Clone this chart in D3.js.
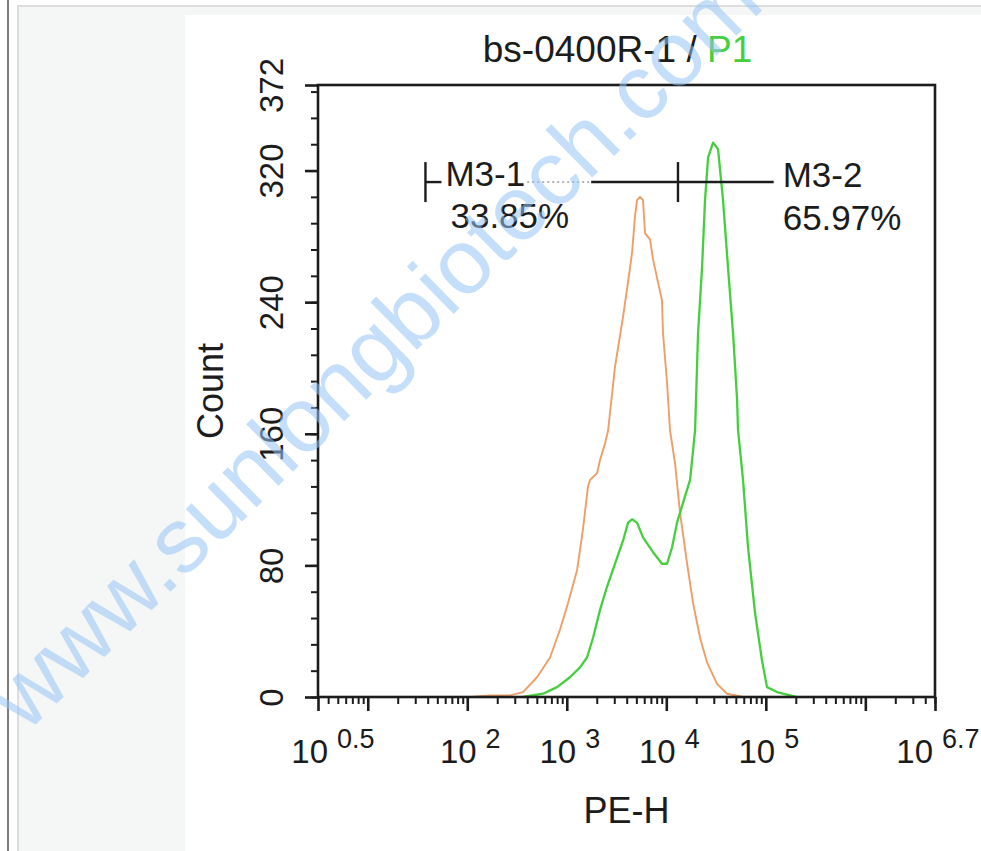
<!DOCTYPE html>
<html>
<head>
<meta charset="utf-8">
<script src="https://cdn.jsdelivr.net/npm/d3@7"></script>
<style>
  body { margin: 0; background: #fff; }
  svg { display: block; font-family: 'Liberation Sans', Arial, Helvetica, sans-serif; }
</style>
</head>
<body>
<svg id="chart" width="981" height="851"></svg>
<script>
// histogram: PE-H value / event count
const isotypePeH = [107, 169, 269, 363, 502, 679, 855, 1028, 1268, 1455, 1633, 1714, 2014, 2158, 2421, 2600,
  3055, 3673, 4121, 4529, 4842, 5078, 5443, 5832, 6109, 6866, 7357, 8255, 9057, 9268, 10170, 10900,
  12240, 13740, 16170, 18580, 21840, 25660, 32340, 40740, 59020, 81600]
const isotypeCount = [0, 1, 1, 3, 12, 24, 41, 57, 77, 102, 128, 132, 136, 144, 154, 162,
  201, 231, 252, 270, 292, 302, 304, 302, 282, 278, 266, 252, 241, 221, 191, 162,
  142, 112, 81, 57, 36, 21, 8, 2, 0, 0]

const samplePeH = [363, 577, 798, 1076, 1358, 1596, 1837, 2158, 2535, 3055, 3673, 4130, 4529, 5078, 5832,
  7357, 9057, 10180, 11430, 12820, 14720, 17330, 18580, 19450, 20840, 22860, 24490, 26300, 29510,
  33110, 37150, 41690, 46880, 51400, 52600, 59020, 66220, 77980, 91620, 102800, 129700, 175000, 206100]
const sampleCount = [0, 2, 6, 12, 18, 24, 36, 53, 67, 81, 95, 106, 108, 106, 97,
  88, 81, 81, 91, 106, 118, 132, 150, 162, 221, 261, 302, 328, 337,
  333, 302, 261, 221, 181, 162, 132, 91, 51, 22, 6, 3, 1, 0]

const yMax = 372
const yTicks = [0, 80, 160, 240, 320, 372]
const xMinExp = 0.5
const xMaxExp = 6.7
const xLabelExps = ['0.5', '2', '3', '4', '5', '6.7']
const xMajorExps = [0.5, 1, 2, 3, 4, 5, 6, 6.7]

// M3 marker gates
const gateLevel = 313
const gateEdges = [38, 13100, 120000]
const gateNames = ['M3-1', 'M3-2']
const gatePercents = ['33.85%', '65.97%']

const titleText = 'bs-0400R-1 / '
const titleSample = 'P1'
const xTitle = 'PE-H'
const yTitle = 'Count'
const watermark = 'www.sunlongbiotech.com'
// --------------------------------------------

const plot = { left: 318, right: 935, top: 85, bottom: 697 }
const ink = '#1c1c1c'
const orange = '#ee9e66'
const green = '#45cf3e'

const svg = d3.select('#chart')

// page chrome round the picture
svg.append('rect').attr('x', 7).attr('y', 0).attr('width', 2).attr('height', 851).attr('fill', '#7b7b7b')
svg.append('rect').attr('x', 17).attr('y', 5).attr('width', 964).attr('height', 846).attr('fill', '#dcdedd')
svg.append('rect').attr('x', 19).attr('y', 7).attr('width', 962).attr('height', 844).attr('fill', '#f5f7f6')
svg.append('rect').attr('x', 185).attr('y', 15).attr('width', 796).attr('height', 836).attr('fill', '#fff')

const x = d3.scaleLog().domain([10 ** xMinExp, 10 ** xMaxExp]).range([plot.left, plot.right])
const y = d3.scaleLinear().domain([0, yMax]).range([plot.bottom, plot.top])

const line = d3.line().x(d => x(d[0])).y(d => y(d[1]))

svg.append('path')
  .datum(d3.zip(isotypePeH, isotypeCount))
  .attr('d', line)
  .attr('fill', 'none')
  .attr('stroke', orange)
  .attr('stroke-width', 1.9)
  .attr('stroke-linejoin', 'round')

svg.append('path')
  .datum(d3.zip(samplePeH, sampleCount))
  .attr('d', line)
  .attr('fill', 'none')
  .attr('stroke', green)
  .attr('stroke-width', 2.3)
  .attr('stroke-linejoin', 'round')

// frame
svg.append('rect')
  .attr('x', plot.left).attr('y', plot.top)
  .attr('width', plot.right - plot.left).attr('height', plot.bottom - plot.top)
  .attr('fill', 'none').attr('stroke', ink).attr('stroke-width', 2.6)

// y axis
const yMinor = d3.range(0, yMax, 16)
svg.append('g')
  .attr('transform', `translate(${plot.left},0)`)
  .call(d3.axisLeft(y).tickValues(yMinor).tickSize(7).tickFormat(''))
  .call(g => g.select('.domain').remove())
  .call(g => g.selectAll('line').attr('stroke', ink).attr('stroke-width', 2))

const yAxis = svg.append('g')
  .attr('transform', `translate(${plot.left},0)`)
  .call(d3.axisLeft(y).tickValues(yTicks).tickSize(13))
  .call(g => g.select('.domain').remove())
  .call(g => g.selectAll('line').attr('stroke', ink).attr('stroke-width', 2.6))

yAxis.selectAll('text')
  .attr('transform', 'rotate(-90)')
  .attr('x', 0).attr('y', -35).attr('dy', 0)
  .attr('text-anchor', 'middle')
  .attr('font-size', 33)
  .attr('fill', ink)

// x axis
const xMinor = []
for (let e = 0; e < 7; e++) {
  for (let m = 2; m <= 9; m++) {
    const v = m * 10 ** e
    if (v > 10 ** xMinExp && v < 10 ** xMaxExp) xMinor.push(v)
  }
}

svg.append('g')
  .attr('transform', `translate(0,${plot.bottom})`)
  .call(d3.axisBottom(x).tickValues(xMinor).tickSize(7).tickFormat(''))
  .call(g => g.select('.domain').remove())
  .call(g => g.selectAll('line').attr('stroke', ink).attr('stroke-width', 2))

svg.append('g')
  .attr('transform', `translate(0,${plot.bottom})`)
  .call(d3.axisBottom(x).tickValues(xMajorExps.map(e => 10 ** e)).tickSize(14).tickFormat(''))
  .call(g => g.select('.domain').remove())
  .call(g => g.selectAll('line').attr('stroke', ink).attr('stroke-width', 2.6))

const xLabels = svg.append('g')
  .selectAll('text')
  .data(xLabelExps)
  .join('text')
  .attr('x', (d, i) => x(10 ** +d) + (i === 0 ? 15 : 3))
  .attr('y', 763)
  .attr('text-anchor', 'middle')
  .attr('font-size', 33)
  .attr('fill', ink)

xLabels.append('tspan').text('10')
xLabels.append('tspan').attr('dx', 9).attr('dy', -15).attr('font-size', 27).text(d => d)

// axis titles
svg.append('text')
  .attr('x', (plot.left + plot.right) / 2)
  .attr('y', 823)
  .attr('text-anchor', 'middle')
  .attr('font-size', 36)
  .attr('fill', ink)
  .text(xTitle)

svg.append('text')
  .attr('transform', `translate(223,${(plot.top + plot.bottom) / 2}) rotate(-90)`)
  .attr('text-anchor', 'middle')
  .attr('font-size', 36)
  .attr('fill', ink)
  .text(yTitle)

const title = svg.append('text')
  .attr('x', (plot.left + plot.right) / 2 - 9)
  .attr('y', 62)
  .attr('text-anchor', 'middle')
  .attr('font-size', 37)
  .attr('fill', ink)
title.append('tspan').text(titleText)
title.append('tspan').attr('fill', green).text(titleSample)

// marker gates
const gy = y(gateLevel)
const gx = gateEdges.map(v => x(v))

const gate = svg.append('g')

const name1 = gate.append('text').attr('x', gx[0] + 20).attr('y', gy + 4).attr('font-size', 35).attr('fill', ink).text(gateNames[0])
const pct1 = gate.append('text').attr('x', gx[0] + 25).attr('y', gy + 46).attr('font-size', 35).attr('fill', ink).text(gatePercents[0])
gate.append('text').attr('x', gx[2] + 9).attr('y', gy + 5).attr('font-size', 35).attr('fill', ink).text(gateNames[1])
gate.append('text').attr('x', gx[2] + 9).attr('y', gy + 48).attr('font-size', 35).attr('fill', ink).text(gatePercents[1])

const nameBox = name1.node().getBBox()
const pctBox = pct1.node().getBBox()
const boxRight = pctBox.x + pctBox.width + 22

const seg = (x1, x2, dashed) => gate.append('line')
  .attr('x1', x1).attr('x2', x2).attr('y1', gy).attr('y2', gy)
  .attr('stroke', dashed ? '#9a9a9a' : ink)
  .attr('stroke-width', dashed ? 1.4 : 2.4)
  .attr('stroke-dasharray', dashed ? '2,3' : null)

seg(gx[0], nameBox.x - 4, false)
seg(nameBox.x + nameBox.width + 2, boxRight, true)
seg(boxRight, gx[2], false)

gate.selectAll('.cap')
  .data(gx.slice(0, 2))
  .join('line')
  .attr('class', 'cap')
  .attr('x1', d => d).attr('x2', d => d)
  .attr('y1', gy - 20).attr('y2', gy + 20)
  .attr('stroke', ink).attr('stroke-width', 2.4)

// watermark over everything
svg.append('text')
  .attr('transform', 'translate(26,734) rotate(-44.5)')
  .attr('font-size', 92)
  .attr('fill', 'rgb(150,196,246)')
  .attr('fill-opacity', 0.55)
  .text(watermark)
</script>
</body>
</html>
